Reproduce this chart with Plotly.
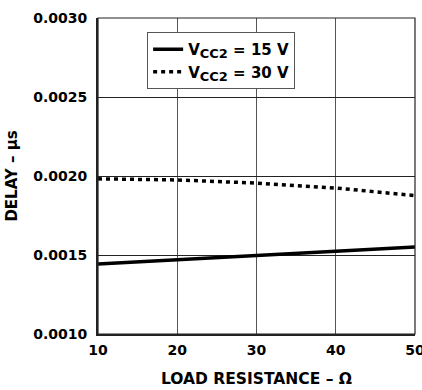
import plotly.graph_objects as go

load_resistance = [10, 20, 30, 40, 50]
delay_vcc15 = [0.001443, 0.001470, 0.001496, 0.001523, 0.001550]
delay_vcc30 = [0.001982, 0.001975, 0.001955, 0.001924, 0.001876]
x_ticks = [10, 20, 30, 40, 50]
y_ticks = [0.0010, 0.0015, 0.0020, 0.0025, 0.0030]

FONT = "DejaVu Sans, Liberation Sans, Arial, sans-serif"
TICKFONT = dict(family=FONT, size=14, color="black", weight="bold")
SUB = "<sub><span style='font-size:13px'>CC2</span></sub>"

fig = go.Figure()
fig.add_trace(go.Scatter(x=load_resistance, y=delay_vcc15, mode="lines",
                         name=f"V{SUB} = 15 V",
                         line=dict(color="black", width=3.5, dash="solid")))
fig.add_trace(go.Scatter(x=load_resistance, y=delay_vcc30, mode="lines",
                         name=f"V{SUB} = 30 V",
                         line=dict(color="black", width=3.5, dash="4px,4px")))

fig.update_layout(
    width=422, height=390,
    margin=dict(l=98, r=7, t=18, b=56),
    paper_bgcolor="white", plot_bgcolor="white",
    font=dict(family=FONT, size=15, color="black", weight="bold"),
    showlegend=True,
    legend=dict(x=0.155, y=0.956, xanchor="left", yanchor="top",
                bgcolor="white", bordercolor="#555", borderwidth=1,
                font=dict(family=FONT, size=15, color="black", weight="bold"),
                itemwidth=30, tracegroupgap=0),
    xaxis=dict(range=[10, 50], tickvals=x_ticks, ticktext=[str(v) for v in x_ticks],
               tickfont=TICKFONT, ticklabeloverflow="allow", ticklabelstandoff=2,
               automargin=False,
               showgrid=True, gridcolor="#555", gridwidth=1,
               showline=True, linecolor="#222", linewidth=2,
               ticks="", zeroline=False,
               title=dict(text="LOAD RESISTANCE – Ω", standoff=16,
                          font=dict(family=FONT, size=15.5, color="black", weight="bold"))),
    yaxis=dict(range=[0.0010, 0.0030], tickvals=y_ticks,
               ticktext=[f"{v:.4f}" for v in y_ticks],
               tickfont=TICKFONT, ticklabelstandoff=6,
               automargin=False,
               showgrid=True, gridcolor="#222", gridwidth=1,
               showline=True, linecolor="#222", linewidth=2,
               ticks="", zeroline=False,
               title=dict(text="DELAY – µs", standoff=12,
                          font=dict(family=FONT, size=15, color="black", weight="bold"))),
    shapes=[dict(type="rect", xref="paper", yref="paper", x0=0, y0=0, x1=1, y1=1,
                 line=dict(color="#222", width=1.2), layer="above")],
)

fig.write_html("out.html", config={"displayModeBar": False},
               post_script="document.body.style.margin='0';document.body.style.overflow='hidden';")
